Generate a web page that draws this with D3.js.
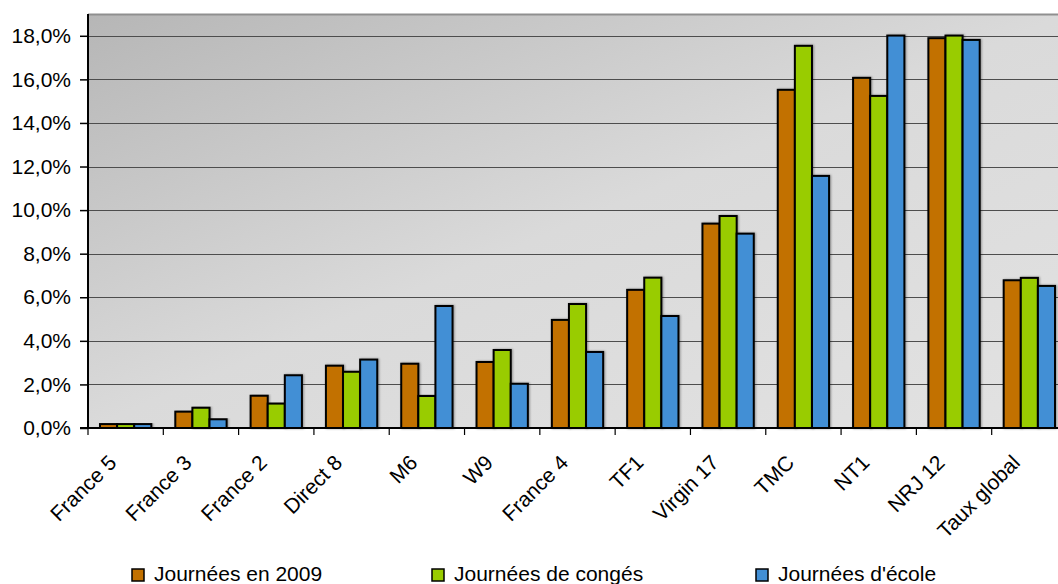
<!DOCTYPE html>
<html>
<head>
<meta charset="utf-8">
<script src="https://cdn.jsdelivr.net/npm/d3@7"></script>
<style>
  body { margin: 0; background: #fff; }
  svg { display: block; font-family: "Liberation Sans", Arial, sans-serif; }
</style>
</head>
<body>
<div id="chart"></div>
<script>
// channels, left to right
const categories = ["France 5", "France 3", "France 2", "Direct 8", "M6", "W9", "France 4",
  "TF1", "Virgin 17", "TMC", "NT1", "NRJ 12", "Taux global"];

const seriesNames = ["Journées en 2009", "Journées de congés", "Journées d'école"];

const journees2009 = [0.18, 0.75, 1.48, 2.86, 2.95, 3.03, 4.96, 6.34, 9.38, 15.52, 16.07, 17.89, 6.78];
const journeesConges = [0.18, 0.93, 1.12, 2.58, 1.47, 3.58, 5.69, 6.90, 9.73, 17.54, 15.24, 18.01, 6.89];
const journeesEcole = [0.18, 0.40, 2.42, 3.14, 5.60, 2.03, 3.49, 5.14, 8.92, 11.57, 18.01, 17.81, 6.52];

const yTicks = [0, 2, 4, 6, 8, 10, 12, 14, 16, 18];

const colors = ["#C27100", "#99CC00", "#428FD5"];
const series = [journees2009, journeesConges, journeesEcole];

const width = 1058, height = 584;
const margin = {top: 14, left: 88, bottom: 156};
const plotW = 979, plotH = height - margin.top - margin.bottom;

const svg = d3.select('#chart').append('svg')
  .attr('width', width)
  .attr('height', height);

const defs = svg.append('defs');
const grad = defs.append('linearGradient')
  .attr('id', 'bg')
  .attr('x1', 0).attr('y1', 0).attr('x2', 1).attr('y2', 1);
grad.append('stop').attr('offset', '0').attr('stop-color', '#b6b6b6');
grad.append('stop').attr('offset', '0.5').attr('stop-color', '#dadada');
grad.append('stop').attr('offset', '1').attr('stop-color', '#e2e2e2');

const shadow = defs.append('filter').attr('id', 'shadow')
  .attr('x', '-20%').attr('y', '-5%').attr('width', '150%').attr('height', '110%');
shadow.append('feDropShadow')
  .attr('dx', 1).attr('dy', 0).attr('stdDeviation', 1)
  .attr('flood-color', '#000').attr('flood-opacity', 0.35);

const x = d3.scaleBand()
  .domain(categories)
  .range([0, plotW])
  .paddingInner(0)
  .paddingOuter(0);

const y = d3.scaleLinear()
  .domain([0, 19])
  .range([plotH, 0]);

const inner = d3.scaleBand()
  .domain(d3.range(series.length))
  .range([12, x.bandwidth() - 12])
  .padding(0);

const g = svg.append('g')
  .attr('transform', 'translate(' + [margin.left, margin.top] + ')');

g.append('rect')
  .attr('width', plotW)
  .attr('height', plotH)
  .attr('fill', 'url(#bg)');

// top border
g.append('line')
  .attr('x1', 0).attr('x2', plotW)
  .attr('y1', 0.5).attr('y2', 0.5)
  .attr('stroke', '#8f8f8f')
  .attr('stroke-width', 2);

// grid
g.selectAll('.grid')
  .data(yTicks.filter(d => d > 0))
  .enter()
  .append('line')
  .attr('class', 'grid')
  .attr('x1', 0).attr('x2', plotW)
  .attr('y1', d => Math.round(y(d)) + 0.5)
  .attr('y2', d => Math.round(y(d)) + 0.5)
  .attr('stroke', '#4d4d4d')
  .attr('stroke-width', 1.2);

// bars
const groups = g.selectAll('.grp')
  .data(categories)
  .enter()
  .append('g')
  .attr('class', 'grp')
  .attr('transform', d => 'translate(' + x(d) + ',0)');

groups.selectAll('rect')
  .data((d, i) => series.map((s, k) => ({k: k, v: s[i]})))
  .enter()
  .append('rect')
  .attr('x', d => inner(d.k))
  .attr('y', d => y(d.v))
  .attr('width', inner.bandwidth())
  .attr('height', d => plotH - y(d.v))
  .attr('fill', d => colors[d.k])
  .attr('stroke', '#000')
  .attr('stroke-width', 2)
  .attr('filter', 'url(#shadow)');

// y axis
const yAxis = g.append('g')
  .call(d3.axisLeft(y)
    .tickValues(yTicks)
    .tickSize(8)
    .tickFormat(d => d3.format('.1f')(d).replace('.', ',') + '%'));
yAxis.select('.domain').remove();
yAxis.selectAll('line').attr('stroke', '#000').attr('stroke-width', 1.5);
yAxis.selectAll('text')
  .attr('x', -17)
  .attr('font-size', 21)
  .attr('fill', '#000');

g.append('line')
  .attr('x1', 0).attr('x2', 0)
  .attr('y1', 0).attr('y2', plotH)
  .attr('stroke', '#000').attr('stroke-width', 2);

// x axis
g.append('line')
  .attr('x1', -8).attr('x2', plotW)
  .attr('y1', plotH).attr('y2', plotH)
  .attr('stroke', '#000').attr('stroke-width', 2);

g.selectAll('.xtick')
  .data(categories.concat(['']))
  .enter()
  .append('line')
  .attr('class', 'xtick')
  .attr('x1', (d, i) => i * x.step())
  .attr('x2', (d, i) => i * x.step())
  .attr('y1', plotH)
  .attr('y2', plotH + 7)
  .attr('stroke', '#000')
  .attr('stroke-width', 1.2);

g.selectAll('.xlabel')
  .data(categories)
  .enter()
  .append('text')
  .attr('class', 'xlabel')
  .attr('transform', d => 'translate(' + [x(d) + x.bandwidth() / 2 - 8, plotH + 36] + ') rotate(-45)')
  .attr('text-anchor', 'end')
  .attr('font-size', 21)
  .attr('fill', '#000')
  .text(d => d);

// legend
const legendX = [132, 432, 756];
const legend = svg.selectAll('.legend')
  .data(seriesNames)
  .enter()
  .append('g')
  .attr('class', 'legend')
  .attr('transform', (d, i) => 'translate(' + [legendX[i], 569] + ')');

legend.append('rect')
  .attr('width', 12)
  .attr('height', 12)
  .attr('fill', (d, i) => colors[i])
  .attr('stroke', '#000')
  .attr('stroke-width', 1.5);

legend.append('text')
  .attr('x', 22)
  .attr('y', 12)
  .attr('font-size', 21)
  .attr('fill', '#000')
  .text(d => d);
</script>
</body>
</html>
